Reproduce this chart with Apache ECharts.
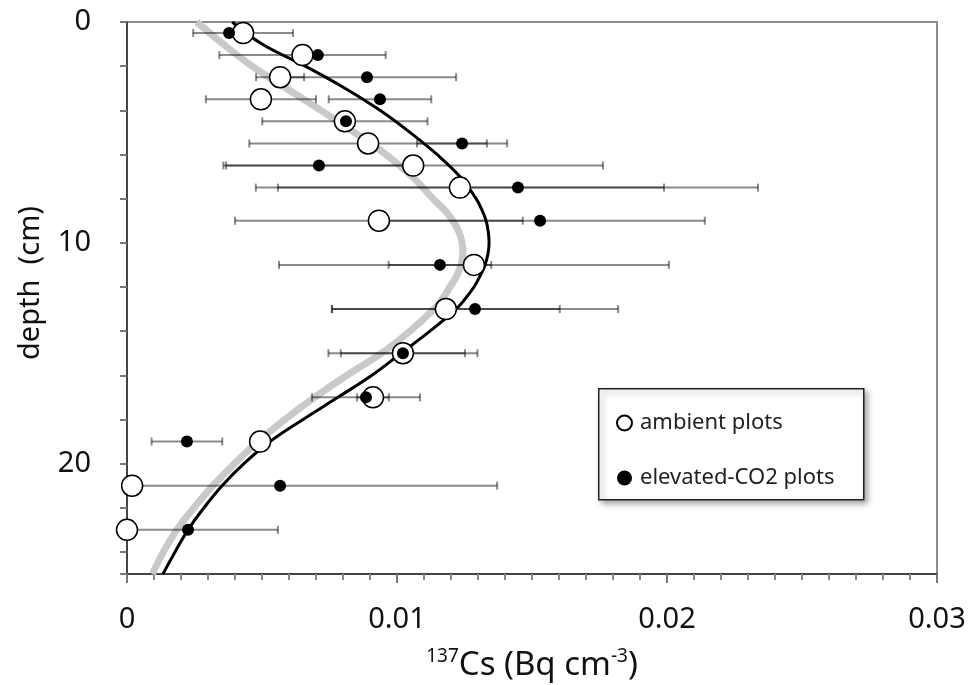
<!DOCTYPE html>
<html>
<head>
<meta charset="utf-8">
<script src="https://cdn.jsdelivr.net/npm/echarts@6/dist/echarts.min.js"></script>
<style>
html,body{margin:0;padding:0;background:#fff;}
#chart{width:969px;height:685px;}
</style>
</head>
<body>
<div id="chart"></div>
<script>
// ---- data ----
const depths = [0.5, 1.5, 2.5, 3.5, 4.5, 5.5, 6.5, 7.5, 9, 11, 13, 15, 17, 19, 21, 23];
const ambientCs = [0.0043, 0.0065, 0.00567, 0.00496, 0.00807, 0.00893, 0.0106, 0.01233, 0.00933, 0.01285, 0.01181, 0.01022, 0.00911, 0.00493, 0.00019, 0.0];
const ambientErr = [0.00185, 0.00308, 0.00089, 0.00204, 0.00306, 0.0044, 0.00703, 0.00756, 0.00533, 0.00722, 0.00422, 0.00276, 0.00059, null, null, null];
const elevatedCs = [0.00378, 0.00707, 0.00889, 0.00937, 0.00811, 0.01241, 0.00711, 0.01448, 0.0153, 0.01159, 0.01289, 0.01022, 0.00885, 0.00222, 0.00567, 0.00226];
const elevatedErr = [null, null, 0.0033, 0.0019, null, 0.00167, 0.00344, 0.00889, 0.0061, 0.0019, 0.0053, 0.0023, 0.002, 0.00131, 0.00804, 0.00333];

const curveDepths = [0, 1, 2, 3, 4, 5, 6, 7, 8, 8.5, 9, 9.5, 10, 10.5, 11, 11.5, 12, 12.5, 13, 14, 15, 16, 17, 18, 19, 20, 21, 22, 23, 24, 25];
const elevatedFit = [0.0039, 0.005, 0.0066, 0.00807, 0.00937, 0.01048, 0.01148, 0.01233, 0.01293, 0.01314, 0.0133, 0.01338, 0.01341, 0.01337, 0.01326, 0.01308, 0.01285, 0.01255, 0.01219, 0.01122, 0.01015, 0.00907, 0.00781, 0.00652, 0.0053, 0.00433, 0.00352, 0.00285, 0.00226, 0.00178, 0.00133];
const ambientFit = [0.00259, 0.00356, 0.00463, 0.0059, 0.00718, 0.00842, 0.00959, 0.01056, 0.01133, 0.01175, 0.01207, 0.01229, 0.01241, 0.01244, 0.01237, 0.01221, 0.01196, 0.0117, 0.01137, 0.01048, 0.00943, 0.00815, 0.00695, 0.00585, 0.00485, 0.00398, 0.00318, 0.00248, 0.00185, 0.00135, 0.00094];

const xTicks = ['0', '0.01', '0.02', '0.03'];
const yTicks = ['0', '10', '20'];

// ---- build ----
const FONT = 'Noto Sans';
function pairs(xs, ys) { return xs.map((x, i) => [x, ys[i]]); }
function errData(xs, errs) {
  const out = [];
  xs.forEach((x, i) => { if (errs[i] != null) out.push([depths[i], x - errs[i], x + errs[i]]); });
  return out;
}
function errRender(params, api) {
  const y = api.value(0), lo = api.value(1), hi = api.value(2);
  const a = api.coord([lo, y]), b = api.coord([hi, y]);
  const st = { stroke: 'rgba(0,0,0,0.46)', lineWidth: 2 };
  const h = 4;
  return {
    type: 'group',
    children: [
      { type: 'line', shape: { x1: a[0], y1: a[1], x2: b[0], y2: b[1] }, style: st },
      { type: 'line', shape: { x1: a[0], y1: a[1] - h, x2: a[0], y2: a[1] + h }, style: st },
      { type: 'line', shape: { x1: b[0], y1: b[1] - h, x2: b[0], y2: b[1] + h }, style: st }
    ]
  };
}

const chart = echarts.init(document.getElementById('chart'), null, { renderer: 'canvas' });
chart.setOption({
  animation: false,
  backgroundColor: '#fff',
  textStyle: { fontFamily: FONT },
  grid: { left: 127, right: 32, top: 22, bottom: 111, outerBoundsMode: 'none', containLabel: false, show: true, borderColor: '#8c8c8c', borderWidth: 2, backgroundColor: 'transparent' },
  xAxis: {
    type: 'value', min: 0, max: 0.03, interval: 0.01,
    axisLine: { show: true, onZero: false, lineStyle: { color: '#444', width: 2 } },
    axisTick: { show: true, inside: false, length: 9, lineStyle: { color: '#777', width: 2 } },
    minorTick: { show: true, splitNumber: 10, length: 6, lineStyle: { color: '#888', width: 2 } },
    splitLine: { show: false },
    axisLabel: {
      margin: 31, fontSize: 29, color: '#111', fontFamily: FONT,
      formatter: (v) => xTicks[Math.round(v / 0.01)]
    },
    name: '{sup|137}{n|Cs (Bq cm}{sup|-3}{n|)}',
    nameLocation: 'middle', nameGap: 73,
    nameTextStyle: {
      rich: {
        n: { fontSize: 33, lineHeight: 38, color: '#111', fontFamily: FONT },
        sup: { fontSize: 19, lineHeight: 21, verticalAlign: 'top', color: '#111', fontFamily: FONT }
      }
    }
  },
  yAxis: {
    type: 'value', min: 0, max: 25, interval: 2, inverse: true,
    axisLine: { show: true, onZero: false, lineStyle: { color: '#444', width: 2 } },
    axisTick: { show: true, inside: false, length: 7, lineStyle: { color: '#777', width: 2 } },
    splitLine: { show: false },
    axisLabel: {
      margin: 36, fontSize: 29, color: '#111', fontFamily: FONT,
      formatter: (v) => (v % 10 === 0 ? yTicks[v / 10] : '')
    },
    name: 'depth  (cm)', nameLocation: 'middle', nameGap: 82, nameRotate: 90,
    nameTextStyle: { fontSize: 29, color: '#111', fontFamily: FONT, padding: [0, 0, 0, 30] }
  },
  legend: {
    data: ['ambient plots', 'elevated-CO2 plots'],
    orient: 'vertical', left: 611, top: 407,
    itemWidth: 15, itemHeight: 15, itemGap: 33,
    textStyle: { fontSize: 22, color: '#222', fontFamily: FONT, padding: [0, 0, 0, 3] }
  },
  graphic: [{
    type: 'rect', left: 598, top: 388, z: -1,
    shape: { width: 265, height: 111 },
    style: { fill: '#fff', stroke: '#222', lineWidth: 1.5, shadowBlur: 6, shadowOffsetX: 3, shadowOffsetY: 3, shadowColor: 'rgba(0,0,0,0.35)' }
  }],
  series: [
    {
      name: 'ambient fit', type: 'line', smooth: 0.4, symbol: 'none', z: 1,
      lineStyle: { color: '#c9c9c9', width: 7 },
      data: pairs(ambientFit, curveDepths)
    },
    {
      name: 'elevated fit', type: 'line', smooth: 0.4, symbol: 'none', z: 2,
      lineStyle: { color: '#000', width: 3 },
      data: pairs(elevatedFit, curveDepths)
    },
    {
      name: 'ambient err', type: 'custom', z: 3, clip: true,
      renderItem: errRender, encode: { x: [1, 2], y: 0 },
      data: errData(ambientCs, ambientErr)
    },
    {
      name: 'elevated err', type: 'custom', z: 3, clip: true,
      renderItem: errRender, encode: { x: [1, 2], y: 0 },
      data: errData(elevatedCs, elevatedErr)
    },
    {
      name: 'ambient plots', type: 'scatter', symbol: 'circle', symbolSize: 21, z: 4,
      itemStyle: { color: '#fff', borderColor: '#000', borderWidth: 1.5, opacity: 1 },
      data: pairs(ambientCs, depths)
    },
    {
      name: 'elevated-CO2 plots', type: 'scatter', symbol: 'circle', symbolSize: 12, z: 5,
      itemStyle: { color: '#000', opacity: 1 },
      data: pairs(elevatedCs, depths)
    }
  ]
});
</script>
</body>
</html>
